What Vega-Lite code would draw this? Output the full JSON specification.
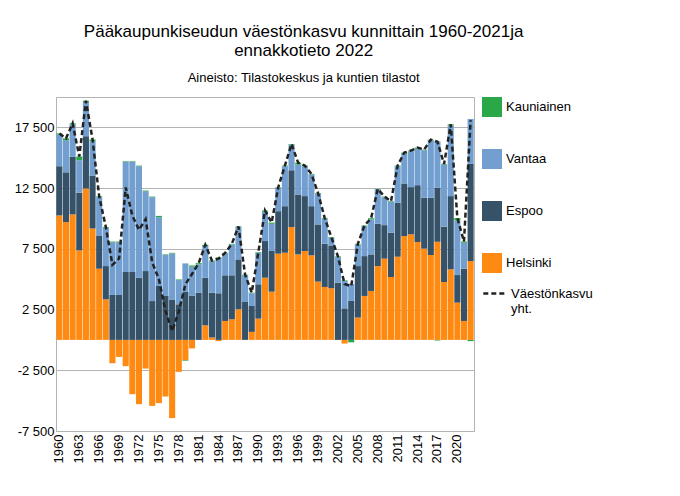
{
  "$schema": "https://vega.github.io/schema/vega-lite/v6.json",
  "width": 418,
  "height": 334,
  "padding": {"left": 14, "top": 22, "right": 5, "bottom": 5},
  "background": "white",
  "config": {
    "font": "Liberation Sans",
    "view": {"stroke": "#b3b3b3"},
    "axis": {"labelFontSize": 13, "labelColor": "black", "domainColor": "#b3b3b3", "tickColor": "#b3b3b3", "gridColor": "#b3b3b3"}
  },
  "title": {
    "text": ["Pääkaupunkiseudun väestönkasvu kunnittain 1960-2021ja", "ennakkotieto 2022"],
    "subtitle": "Aineisto: Tilastokeskus ja kuntien tilastot",
    "fontSize": 17, "fontWeight": "normal", "subtitleFontSize": 13, "subtitleColor": "black",
    "subtitlePadding": 12, "anchor": "middle", "frame": "bounds", "offset": 10
  },
  "data": {
    "values": [
      {"year":1960,"Helsinki":10250,"Espoo":4050,"Vantaa":2600,"Kauniainen":100},
      {"year":1961,"Helsinki":9700,"Espoo":4100,"Vantaa":2650,"Kauniainen":150},
      {"year":1962,"Helsinki":10330,"Espoo":4740,"Vantaa":2660,"Kauniainen":100},
      {"year":1963,"Helsinki":7370,"Espoo":4740,"Vantaa":2690,"Kauniainen":300},
      {"year":1964,"Helsinki":12470,"Espoo":4300,"Vantaa":2820,"Kauniainen":100},
      {"year":1965,"Helsinki":9180,"Espoo":4360,"Vantaa":2820,"Kauniainen":150},
      {"year":1966,"Helsinki":5860,"Espoo":2740,"Vantaa":3150,"Kauniainen":70},
      {"year":1967,"Helsinki":3340,"Espoo":2740,"Vantaa":3150,"Kauniainen":70},
      {"year":1968,"Helsinki":-1920,"Espoo":3700,"Vantaa":4350,"Kauniainen":50},
      {"year":1969,"Helsinki":-1400,"Espoo":3700,"Vantaa":4350,"Kauniainen":50},
      {"year":1970,"Helsinki":-2160,"Espoo":5590,"Vantaa":9070,"Kauniainen":50},
      {"year":1971,"Helsinki":-4470,"Espoo":5590,"Vantaa":9070,"Kauniainen":50},
      {"year":1972,"Helsinki":-5290,"Espoo":5120,"Vantaa":9180,"Kauniainen":50},
      {"year":1973,"Helsinki":-2360,"Espoo":5670,"Vantaa":6580,"Kauniainen":50},
      {"year":1974,"Helsinki":-5430,"Espoo":3200,"Vantaa":8550,"Kauniainen":50},
      {"year":1975,"Helsinki":-5200,"Espoo":4440,"Vantaa":5670,"Kauniainen":100},
      {"year":1976,"Helsinki":-4660,"Espoo":3620,"Vantaa":3370,"Kauniainen":50},
      {"year":1977,"Helsinki":-6440,"Espoo":3290,"Vantaa":3830,"Kauniainen":50},
      {"year":1978,"Helsinki":-2630,"Espoo":2930,"Vantaa":2000,"Kauniainen":50},
      {"year":1979,"Helsinki":-1670,"Espoo":3950,"Vantaa":2350,"Kauniainen":-50},
      {"year":1980,"Helsinki":-700,"Espoo":3620,"Vantaa":2410,"Kauniainen":100},
      {"year":1981,"Helsinki":0,"Espoo":3890,"Vantaa":2330,"Kauniainen":100},
      {"year":1982,"Helsinki":1200,"Espoo":3920,"Vantaa":2610,"Kauniainen":100},
      {"year":1983,"Helsinki":200,"Espoo":3690,"Vantaa":2600,"Kauniainen":50},
      {"year":1984,"Helsinki":-100,"Espoo":3840,"Vantaa":2850,"Kauniainen":100},
      {"year":1985,"Helsinki":1560,"Espoo":3760,"Vantaa":1800,"Kauniainen":50},
      {"year":1986,"Helsinki":1700,"Espoo":3620,"Vantaa":2540,"Kauniainen":50},
      {"year":1987,"Helsinki":2520,"Espoo":4110,"Vantaa":2660,"Kauniainen":50},
      {"year":1988,"Helsinki":0,"Espoo":3120,"Vantaa":2200,"Kauniainen":50},
      {"year":1989,"Helsinki":660,"Espoo":2130,"Vantaa":1050,"Kauniainen":50},
      {"year":1990,"Helsinki":1750,"Espoo":2830,"Vantaa":2600,"Kauniainen":50},
      {"year":1991,"Helsinki":5120,"Espoo":3020,"Vantaa":2410,"Kauniainen":100},
      {"year":1992,"Helsinki":3970,"Espoo":3350,"Vantaa":2240,"Kauniainen":100},
      {"year":1993,"Helsinki":7100,"Espoo":3500,"Vantaa":1920,"Kauniainen":50},
      {"year":1994,"Helsinki":7180,"Espoo":3830,"Vantaa":3290,"Kauniainen":50},
      {"year":1995,"Helsinki":9290,"Espoo":4680,"Vantaa":2110,"Kauniainen":50},
      {"year":1996,"Helsinki":7040,"Espoo":4930,"Vantaa":2470,"Kauniainen":150},
      {"year":1997,"Helsinki":7320,"Espoo":4520,"Vantaa":2460,"Kauniainen":50},
      {"year":1998,"Helsinki":6960,"Espoo":4050,"Vantaa":2610,"Kauniainen":50},
      {"year":1999,"Helsinki":4800,"Espoo":4710,"Vantaa":2520,"Kauniainen":50},
      {"year":2000,"Helsinki":4360,"Espoo":3560,"Vantaa":2080,"Kauniainen":50},
      {"year":2001,"Helsinki":4250,"Espoo":3530,"Vantaa":630,"Kauniainen":50},
      {"year":2002,"Helsinki":0,"Espoo":4710,"Vantaa":2110,"Kauniainen":50},
      {"year":2003,"Helsinki":-300,"Espoo":2600,"Vantaa":2250,"Kauniainen":50},
      {"year":2004,"Helsinki":0,"Espoo":3210,"Vantaa":1420,"Kauniainen":-200},
      {"year":2005,"Helsinki":1840,"Espoo":4240,"Vantaa":1780,"Kauniainen":50},
      {"year":2006,"Helsinki":3620,"Espoo":3280,"Vantaa":2470,"Kauniainen":50},
      {"year":2007,"Helsinki":4030,"Espoo":3010,"Vantaa":2880,"Kauniainen":100},
      {"year":2008,"Helsinki":6080,"Espoo":3480,"Vantaa":2820,"Kauniainen":50},
      {"year":2009,"Helsinki":6690,"Espoo":2760,"Vantaa":2300,"Kauniainen":50},
      {"year":2010,"Helsinki":5180,"Espoo":3640,"Vantaa":2550,"Kauniainen":50},
      {"year":2011,"Helsinki":6850,"Espoo":4440,"Vantaa":3010,"Kauniainen":50},
      {"year":2012,"Helsinki":8550,"Espoo":4330,"Vantaa":2440,"Kauniainen":100},
      {"year":2013,"Helsinki":8690,"Espoo":3890,"Vantaa":2960,"Kauniainen":50},
      {"year":2014,"Helsinki":8060,"Espoo":4680,"Vantaa":2990,"Kauniainen":100},
      {"year":2015,"Helsinki":7510,"Espoo":4190,"Vantaa":3920,"Kauniainen":50},
      {"year":2016,"Helsinki":6990,"Espoo":4710,"Vantaa":4740,"Kauniainen":50},
      {"year":2017,"Helsinki":8080,"Espoo":4440,"Vantaa":3840,"Kauniainen":-50},
      {"year":2018,"Helsinki":4770,"Espoo":4550,"Vantaa":5120,"Kauniainen":50},
      {"year":2019,"Helsinki":5810,"Espoo":6030,"Vantaa":5810,"Kauniainen":100},
      {"year":2020,"Helsinki":3070,"Espoo":2270,"Vantaa":4500,"Kauniainen":200},
      {"year":2021,"Helsinki":1560,"Espoo":4300,"Vantaa":2140,"Kauniainen":100},
      {"year":2022,"Helsinki":6490,"Espoo":8000,"Vantaa":3700,"Kauniainen":-100}
    ]
  },
  "transform": [
    {"fold": ["Helsinki", "Espoo", "Vantaa", "Kauniainen"], "as": ["kunta", "kasvu"]},
    {"calculate": "indexof(['Helsinki','Espoo','Vantaa','Kauniainen'], datum.kunta)", "as": "jarj"}
  ],
  "encoding": {
    "x": {
      "field": "year", "type": "ordinal", "title": null,
      "scale": {"paddingInner": 0.08, "paddingOuter": 0.05},
      "axis": {"labelAngle": -90, "labelAlign": "right", "labelBaseline": "middle", "labelPadding": 3,
               "labelExpr": "(datum.value - 1960) % 3 == 0 ? datum.label : ''", "ticks": false, "domain": false}
    }
  },
  "layer": [
    {
      "mark": {"type": "bar"},
      "encoding": {
        "y": {"field": "kasvu", "type": "quantitative", "stack": "zero", "title": null,
              "scale": {"domain": [-7500, 20000], "nice": false},
              "axis": {"values": [-7500,-5000,-2500,0,2500,5000,7500,10000,12500,15000,17500,20000],
                       "labelExpr": "replace(replace(format(datum.value, ','), ',', ' '), '−', '-')",
                       "labelOverlap": false, "ticks": false, "domain": false}},
        "order": {"field": "jarj", "type": "quantitative"},
        "color": {
          "field": "kunta", "type": "nominal",
          "scale": {"domain": ["Kauniainen", "Vantaa", "Espoo", "Helsinki"], "range": ["#2aa847", "#729fcf", "#355269", "#ff8a12"]},
          "legend": {"title": null, "orient": "right", "symbolType": "square", "symbolSize": 400, "symbolStrokeWidth": 0,
                     "labelFontSize": 13, "rowPadding": 32, "offset": 8}
        }
      }
    },
    {
      "mark": {"type": "rule", "color": "#555555", "strokeWidth": 1},
      "encoding": {"y": {"datum": 0}}
    },
    {
      "transform": [{"aggregate": [{"op": "sum", "field": "kasvu", "as": "yht"}], "groupby": ["year"]}],
      "mark": {"type": "line", "color": "#222222", "strokeWidth": 2.5},
      "encoding": {
        "y": {"field": "yht", "type": "quantitative"},
        "strokeDash": {
          "datum": "Väestönkasvu yht.",
          "scale": {"range": [[5, 3]]},
          "legend": {"title": null, "orient": "right", "labelFontSize": 13, "symbolSize": 500, "symbolStrokeWidth": 2.5,
                     "labelExpr": "split(datum.label, ' ')", "offset": 8}
        }
      }
    }
  ]
}
